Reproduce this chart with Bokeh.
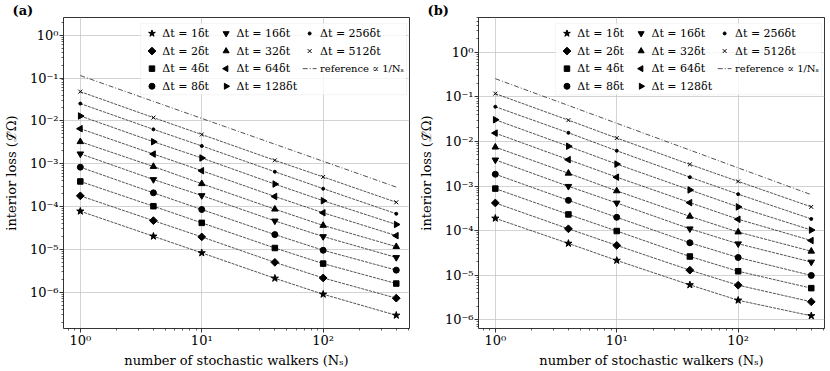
import math
from bokeh.plotting import figure
from bokeh.models import FixedTicker, Label, BoxAnnotation
from bokeh.layouts import row
from bokeh.embed import file_html
from bokeh.resources import INLINE

# ---------------- data ----------------
walkers = [1, 4, 10, 40, 100, 400]

dt_labels = ["Δt = 1δt", "Δt = 2δt", "Δt = 4δt", "Δt = 8δt",
             "Δt = 16δt", "Δt = 32δt", "Δt = 64δt", "Δt = 128δt",
             "Δt = 256δt", "Δt = 512δt"]
ref_label = "reference ∝ 1/Nₛ"

# panel (a)
a_dt1 = [7.8e-5, 2.03e-5, 8.3e-6, 2.12e-6, 9.0e-7, 2.9e-7]
a_dt2 = [1.78e-4, 4.7e-5, 1.96e-5, 5.0e-6, 2.16e-6, 7.3e-7]
a_dt4 = [3.86e-4, 1.02e-4, 4.17e-5, 1.08e-5, 4.67e-6, 1.6e-6]
a_dt8 = [8.3e-4, 2.09e-4, 8.55e-5, 2.22e-5, 9.57e-6, 3.29e-6]
a_dt16 = [1.7e-3, 4.28e-4, 1.81e-4, 4.63e-5, 2.0e-5, 6.5e-6]
a_dt32 = [3.26e-3, 8.6e-4, 3.41e-4, 8.7e-5, 3.63e-5, 1.16e-5]
a_dt64 = [6.56e-3, 1.68e-3, 6.87e-4, 1.72e-4, 7.17e-5, 2.1e-5]
a_dt128 = [1.3e-2, 3.26e-3, 1.36e-3, 3.35e-4, 1.37e-4, 3.82e-5]
a_dt256 = [2.53e-2, 6.34e-3, 2.6e-3, 6.5e-4, 2.62e-4, 6.8e-5]
a_dt512 = [4.8e-2, 1.19e-2, 4.8e-3, 1.2e-3, 4.92e-4, 1.26e-4]
a_ref = [0.114, 0.0285, 0.0114, 0.00285, 0.00114, 0.000285]

# panel (b)
b_dt1 = [1.89e-4, 5.17e-5, 2.15e-5, 6.08e-6, 2.75e-6, 1.23e-6]
b_dt2 = [4.17e-4, 1.1e-4, 4.67e-5, 1.3e-5, 5.98e-6, 2.54e-6]
b_dt4 = [8.75e-4, 2.31e-4, 9.8e-5, 2.63e-5, 1.23e-5, 5.14e-6]
b_dt8 = [1.84e-3, 4.77e-4, 1.99e-4, 5.35e-5, 2.5e-5, 9.9e-6]
b_dt16 = [3.85e-3, 9.85e-4, 4.17e-4, 1.1e-4, 5.08e-5, 1.98e-5]
b_dt32 = [7.44e-3, 1.93e-3, 7.78e-4, 2.09e-4, 9.3e-5, 3.45e-5]
b_dt64 = [1.535e-2, 3.9e-3, 1.58e-3, 4.24e-4, 1.8e-4, 6.0e-5]
b_dt128 = [3.06e-2, 7.8e-3, 3.1e-3, 8.18e-4, 3.41e-4, 1.03e-4]
b_dt256 = [6.0e-2, 1.56e-2, 6.18e-3, 1.58e-3, 6.57e-4, 1.83e-4]
b_dt512 = [0.118, 3.0e-2, 1.19e-2, 3.05e-3, 1.27e-3, 3.41e-4]
b_ref = [0.255, 0.064, 0.0255, 0.0064, 0.00255, 0.00064]

x_tick_values = [1, 10, 100]
x_tick_labels = ["10⁰", "10¹", "10²"]
y_tick_values = [1e-6, 1e-5, 1e-4, 1e-3, 1e-2, 1e-1, 1e0]
y_tick_labels = ["10⁻⁶", "10⁻⁵", "10⁻⁴", "10⁻³", "10⁻²", "10⁻¹", "10⁰"]

panel_a = [a_dt1, a_dt2, a_dt4, a_dt8, a_dt16, a_dt32, a_dt64, a_dt128, a_dt256, a_dt512]
panel_b = [b_dt1, b_dt2, b_dt4, b_dt8, b_dt16, b_dt32, b_dt64, b_dt128, b_dt256, b_dt512]

# ---------------- styles ----------------
FONT = "DejaVu Serif"

markers = [
    dict(marker="star", size=7.5, lsize=7, angle=0.0),
    dict(marker="square", size=5.5, lsize=5.5, angle=math.pi / 4),
    dict(marker="square", size=5.5, lsize=5.5, angle=0.0),
    dict(marker="circle", size=6, lsize=6, angle=0.0),
    dict(marker="inverted_triangle", size=6.5, lsize=6, angle=0.0),
    dict(marker="triangle", size=6.5, lsize=6, angle=0.0),
    dict(marker="triangle", size=6.5, lsize=6, angle=math.pi / 2),
    dict(marker="triangle", size=6.5, lsize=6, angle=-math.pi / 2),
    dict(marker="circle", size=3, lsize=3, angle=0.0),
    dict(marker="x", size=5.5, lsize=5.5, angle=0.0),
]

XR = (0.727, 514.0)
FRAME_W, FRAME_H = 350, 318


def minor_ticks(lo_exp, hi_exp):
    out = []
    for e in range(lo_exp, hi_exp + 1):
        for m in range(2, 10):
            out.append(m * 10.0 ** e)
    return out


def make_panel(series, ref, yrange, tag):
    lx0, lx1 = math.log10(XR[0]), math.log10(XR[1])
    ly0, ly1 = math.log10(yrange[0]), math.log10(yrange[1])

    def fx(px):  # frame pixel from left -> data x
        return 10 ** (lx0 + px / FRAME_W * (lx1 - lx0))

    def fy(py):  # frame pixel from top -> data y
        return 10 ** (ly1 - py / FRAME_H * (ly1 - ly0))

    p = figure(width=415, height=370, x_axis_type="log", y_axis_type="log",
               x_range=XR, y_range=yrange, title=tag,
               output_backend="svg", toolbar_location=None,
               min_border_left=59, min_border_right=6,
               min_border_top=0, min_border_bottom=39)
    p.title.align = "left"
    p.title.offset = -51
    p.title.standoff = 0
    p.title.text_font = FONT
    p.title.text_font_size = "13px"
    p.title.text_font_style = "bold"
    p.title.text_color = "black"

    p.outline_line_color = "black"
    p.outline_line_width = 0.8
    p.background_fill_color = "white"
    p.border_fill_color = "white"

    p.xaxis.ticker = FixedTicker(ticks=x_tick_values, minor_ticks=minor_ticks(-1, 2))
    p.yaxis.ticker = FixedTicker(ticks=y_tick_values, minor_ticks=minor_ticks(-7, 0))
    p.xaxis.major_label_overrides = dict(zip(x_tick_values, x_tick_labels))
    p.yaxis.major_label_overrides = dict(zip(y_tick_values, y_tick_labels))

    for ax in (p.xaxis, p.yaxis):
        ax.axis_line_color = None
        ax.major_tick_line_color = "black"
        ax.minor_tick_line_color = "black"
        ax.major_tick_line_width = 0.8
        ax.minor_tick_line_width = 0.6
        ax.major_tick_out = 4
        ax.major_tick_in = 0
        ax.minor_tick_out = 2
        ax.minor_tick_in = 0
        ax.major_label_text_font = FONT
        ax.major_label_text_font_size = "13px"
        ax.major_label_text_color = "black"
        ax.axis_label_text_font = FONT
        ax.axis_label_text_font_size = "13px"
        ax.axis_label_text_font_style = "normal"
        ax.axis_label_text_color = "black"
    p.xaxis.major_label_standoff = 0
    p.xaxis.axis_label_standoff = 2
    p.yaxis.major_label_standoff = 1
    p.yaxis.axis_label_standoff = 8

    p.xaxis.axis_label = "number of stochastic walkers (Nₛ)"
    p.yaxis.axis_label = "interior loss (ℒ̃Ω)"

    p.xgrid.ticker = FixedTicker(ticks=x_tick_values)
    p.ygrid.ticker = FixedTicker(ticks=y_tick_values)
    for g in (p.xgrid, p.ygrid):
        g.grid_line_color = "#c8c8c8"
        g.grid_line_width = 0.8

    for vals, mk in zip(series, markers):
        p.line(walkers, vals, line_color="#262626", line_width=0.8, line_dash="3 1")
        p.scatter(walkers, vals, marker=mk["marker"], size=mk["size"], angle=mk["angle"],
                  fill_color="black", line_color="black", line_width=1.0)
    p.line(walkers, ref, line_color="#262626", line_width=0.8, line_dash="5 2 1 2")

    # ---- legend (drawn by hand so rotated markers show correctly) ----
    box = BoxAnnotation(left=fx(78), right=fx(347), top=fy(6), bottom=fy(79),
                        fill_color="white", fill_alpha=0.8,
                        line_color="#d0d0d0", line_width=0.8, level="annotation")
    p.add_layout(box)
    col_marker_x = [89.5, 164.5, 249.0]
    col_text_x = [100.0, 175.0, 259.5]
    row_y = [16.3, 34.3, 52.3, 70.3]
    for i, (mk, lab) in enumerate(zip(markers, dt_labels)):
        c, r = divmod(i, 4)
        p.scatter([fx(col_marker_x[c])], [fy(row_y[r])], marker=mk["marker"],
                  size=mk["lsize"], angle=mk["angle"], fill_color="black",
                  line_color="black", line_width=1.0, level="overlay")
        p.add_layout(Label(x=fx(col_text_x[c]), y=fy(row_y[r]), text=lab,
                           text_font=FONT, text_font_size="11px",
                           text_baseline="middle", text_align="left",
                           text_color="black", level="overlay"))
    p.line([fx(242), fx(256)], [fy(row_y[2]), fy(row_y[2])], line_color="#262626",
           line_width=0.8, line_dash="5 2 1 2", level="overlay")
    p.add_layout(Label(x=fx(col_text_x[2]), y=fy(row_y[2]), text=ref_label,
                       text_font=FONT, text_font_size="10px",
                       text_baseline="middle", text_align="left",
                       text_color="black", level="overlay"))
    return p


pa = make_panel(panel_a, a_ref, (1.43e-7, 2.58), "(a)")
pb = make_panel(panel_b, b_ref, (6.4e-7, 6.0), "(b)")

layout = row(pa, pb)
open("out.html", "w").write(file_html(layout, INLINE))
